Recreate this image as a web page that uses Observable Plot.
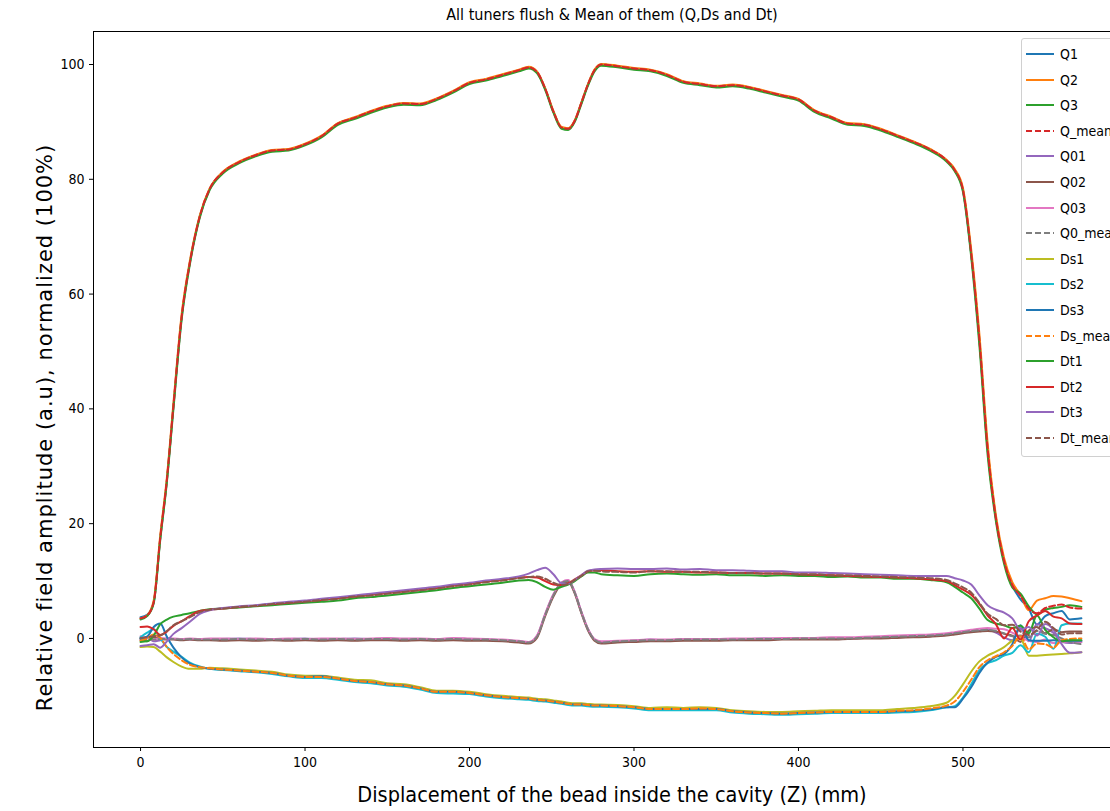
<!DOCTYPE html>
<html>
<head>
<meta charset="utf-8">
<script src="https://cdn.jsdelivr.net/npm/d3@7"></script>
<script src="https://cdn.jsdelivr.net/npm/@observablehq/plot@0.6"></script>
<style>
  html, body { margin: 0; padding: 0; background: #fff; overflow: hidden; }
  #wrap { position: relative; width: 1110px; height: 811px; }
  #legend { position: absolute; left: 1021px; top: 38px; width: 130px; height: 417px;
            border: 1px solid #d0d0d0; border-radius: 3px; background: rgba(255,255,255,0.85);
            font-family: "DejaVu Sans Condensed", "Liberation Sans Narrow", "DejaVu Sans", sans-serif;
            font-size: 14px; color: #000; }
  .item { position: absolute; left: 0; height: 20px; width: 130px; }
  .item svg { position: absolute; left: 3px; top: 4px; }
  .item span { position: absolute; left: 38px; top: 1px; line-height: 18px; white-space: nowrap; }
</style>
</head>
<body>
<div id="wrap"><div id="chart"></div><div id="legend"></div></div>
<script>
// ---- data ----
const title = "All tuners flush & Mean of them (Q,Ds and Dt)";
const xLabel = "Displacement of the bead inside the cavity (Z) (mm)";
const yLabel = "Relative field amplitude (a.u), normalized (100%)";
const xTicks = [0, 100, 200, 300, 400, 500];
const yTicks = [0, 20, 40, 60, 80, 100];

const z = [0,4,8,12,16,20,25,30,36,42,50,60,70,80,90,100,110,120,130,140,150,160,170,180,190,200,210,220,230,236,241,246,251,256,260,264,268,272,276,280,290,300,310,320,330,340,350,360,370,380,390,400,410,420,430,440,450,460,470,480,490,495,500,505,510,515,520,525,530,535,540,545,550,555,560,565,572];

const Q1 = [3.7,4.1,6.3,17.5,27.5,40.5,56.0,65.5,73.5,78.3, 81.2,83.0,84.2,85.0,85.2,86.1,87.5,89.7,90.7,91.8, 92.7,93.2,93.1,94.0,95.3,96.8,97.4,98.2,99.0,99.5, 98.7,95.8,91.8,89.0,88.8,90.2,93.3,96.5,99.0,100.0, 99.7,99.3,99.0,98.2,97.0,96.6,96.2,96.4,96.0,95.3, 94.6,93.9,91.9,90.8,89.7,89.5,88.7,87.6,86.5,85.2, 83.3,81.6,78.1,67.0,52.0,33.0,21.0,13.5,9.2,6.8,5.2,2.4,3.9,4.4,4.8,3.3,3.5];
const Q2 = [3.5,4.0,6.6,18.0,28.0,41.0,56.5,65.8,73.7,78.4, 81.3,83.1,84.3,85.1,85.3,86.2,87.6,89.8,90.8,91.9, 92.8,93.3,93.2,94.1,95.4,96.9,97.5,98.3,99.1,99.6, 98.8,95.9,91.9,89.1,88.9,90.3,93.4,96.6,99.1,100.1, 99.8,99.4,99.1,98.3,97.1,96.7,96.3,96.5,96.1,95.4, 94.7,94.0,92.0,90.9,89.8,89.6,88.8,87.7,86.6,85.3, 83.4,81.8,78.5,67.8,53.0,34.0,21.5,14.0,9.8,7.6,4.9,6.6,7.0,7.4,7.3,7.0,6.5];
const Q3 = [3.3,3.9,6.1,17.2,27.2,40.0,55.6,65.2,73.3,78.1, 81.0,82.8,84.0,84.8,85.0,85.9,87.3,89.5,90.5,91.6, 92.5,93.0,92.9,93.8,95.1,96.6,97.2,98.0,98.8,99.3, 98.5,95.6,91.6,88.8,88.6,90.0,93.1,96.3,98.8,99.8, 99.5,99.1,98.8,98.0,96.8,96.4,96.0,96.2,95.8,95.1, 94.4,93.7,91.7,90.6,89.5,89.3,88.5,87.4,86.3,85.0, 83.1,81.4,77.8,66.5,51.0,32.0,20.5,13.0,8.9,7.8,5.6,4.2,5.0,5.3,5.5,5.8,5.5];
const Q_mean = [3.5,4.0,6.3,17.6,27.6,40.5,56.0,65.5,73.5,78.3, 81.2,83.0,84.2,85.0,85.2,86.1,87.5,89.7,90.7,91.8, 92.7,93.2,93.1,94.0,95.3,96.8,97.4,98.2,99.0,99.5, 98.7,95.8,91.8,89.0,88.8,90.2,93.3,96.5,99.0,100.0, 99.7,99.3,99.0,98.2,97.0,96.6,96.2,96.4,96.0,95.3, 94.6,93.9,91.9,90.8,89.7,89.5,88.7,87.6,86.5,85.2, 83.3,81.6,78.1,67.1,52.0,33.0,21.0,13.5,9.3,7.4,5.2,4.4,5.3,5.7,5.9,5.4,5.2];

const Q01 = [-0.3,0.3,-0.5,-0.3,0.0,-0.1,-0.1,-0.2,-0.1,-0.2, -0.1,0.0,-0.1,-0.2,-0.1,0.0,-0.2,-0.1,0.0,-0.1, 0.0,-0.2,-0.1,-0.2,0.0,-0.1,-0.2,-0.3,-0.5,-0.7, 0.4,4.2,7.6,9.7,10.1,8.0,4.6,1.6,-0.2,-0.6, -0.5,-0.4,-0.2,-0.3,-0.2,-0.1,-0.2,-0.2,-0.1,0.0, -0.1,0.0,0.0,-0.1,0.0,0.1,0.2,0.3,0.3,0.4, 0.6,0.8,1.0,1.2,1.4,1.5,1.0,0.2,-0.3,1.8,-0.5,2.5,1.8,1.0,-0.6,-0.8,-0.6];
const Q02 = [-0.1,-0.5,0.2,0.0,-0.2,-0.2,-0.3,-0.2,-0.3,-0.3, -0.4,-0.3,-0.4,-0.3,-0.4,-0.3,-0.4,-0.3,-0.4,-0.3, -0.3,-0.4,-0.3,-0.4,-0.3,-0.4,-0.4,-0.5,-0.7,-0.9, 0.1,3.9,7.3,9.5,9.9,7.8,4.4,1.4,-0.4,-0.9, -0.7,-0.6,-0.5,-0.5,-0.4,-0.4,-0.4,-0.3,-0.3,-0.3, -0.2,-0.2,-0.2,-0.2,-0.1,0.0,0.0,0.1,0.2,0.3, 0.5,0.7,0.9,1.1,1.2,1.3,1.2,0.8,0.5,-0.6,1.4,2.0,0.9,1.6,1.1,1.2,1.2];
const Q03 = [0.4,0.1,-0.2,0.1,0.0,0.0,-0.1,0.0,-0.1,0.0, 0.0,-0.1,0.0,-0.1,0.0,-0.1,0.0,0.0,-0.1,0.0, 0.1,0.0,0.0,-0.1,0.1,0.0,-0.1,-0.2,-0.4,-0.6, 0.5,4.3,7.7,9.8,10.2,8.1,4.7,1.7,-0.1,-0.5, -0.4,-0.3,-0.2,-0.2,-0.1,-0.1,-0.1,0.0,0.0,0.0, 0.1,0.1,0.1,0.2,0.2,0.3,0.4,0.5,0.6,0.7, 0.9,1.1,1.3,1.5,1.7,1.8,1.7,1.6,1.0,0.2,-0.4,-0.6,-0.2,-0.8,-0.6,-0.5,-0.6];
const Q0_mean = [0.0,-0.1,-0.2,-0.1,-0.1,-0.1,-0.2,-0.1,-0.2,-0.2, -0.2,-0.1,-0.2,-0.2,-0.2,-0.1,-0.2,-0.1,-0.2,-0.1, -0.1,-0.2,-0.1,-0.2,-0.1,-0.2,-0.2,-0.3,-0.5,-0.7, 0.3,4.1,7.5,9.7,10.0,8.0,4.6,1.6,-0.2,-0.7, -0.5,-0.4,-0.3,-0.3,-0.2,-0.2,-0.2,-0.2,-0.1,-0.1, -0.1,0.0,0.0,0.0,0.0,0.1,0.2,0.3,0.4,0.5, 0.7,0.9,1.1,1.3,1.4,1.5,1.3,0.9,0.4,0.5,0.2,1.3,0.8,0.6,0.0,-0.6,-1.0];

const Ds1 = [-1.5,-1.4,-1.5,-2.3,-3.3,-4.1,-4.9,-5.3,-5.3,-5.1, -5.2,-5.4,-5.6,-5.8,-6.3,-6.5,-6.5,-6.8,-7.2,-7.3, -7.8,-8.0,-8.5,-9.1,-9.1,-9.3,-9.7,-10.0,-10.2,-10.3, -10.5,-10.6,-10.8,-11.0,-11.2,-11.3,-11.3,-11.4,-11.5,-11.5, -11.6,-11.8,-12.1,-12.0,-12.1,-12.0,-12.1,-12.5,-12.7,-12.8, -12.8,-12.7,-12.6,-12.5,-12.5,-12.5,-12.5,-12.3,-12.1,-11.8, -11.2,-10.0,-8.0,-5.8,-4.0,-3.0,-2.3,-1.5,-0.4,0.0,-3.0,-3.0,-2.9,-2.8,-2.7,-2.6,-2.4];
const Ds2 = [0.2,1.0,1.6,0.0,-1.5,-2.3,-3.2,-4.2,-4.9,-5.3, -5.5,-5.7,-5.9,-6.2,-6.6,-6.9,-6.9,-7.2,-7.6,-7.8, -8.2,-8.4,-8.9,-9.5,-9.6,-9.7,-10.1,-10.4,-10.6,-10.7, -10.9,-11.0,-11.2,-11.4,-11.6,-11.7,-11.7,-11.8,-11.9,-11.9, -12.0,-12.2,-12.5,-12.5,-12.5,-12.5,-12.5,-12.9,-13.1,-13.2, -13.3,-13.2,-13.1,-13.0,-13.0,-13.0,-13.0,-12.9,-12.8,-12.5, -12.0,-11.8,-10.3,-8.0,-5.5,-4.3,-3.8,-3.0,-2.5,-1.2,-2.4,0.8,0.3,-1.8,2.3,2.6,2.6];
const Ds3 = [0.0,0.3,2.0,2.6,0.3,-1.6,-3.3,-4.4,-5.0,-5.3, -5.4,-5.6,-5.8,-6.0,-6.5,-6.7,-6.6,-7.0,-7.4,-7.6, -8.0,-8.2,-8.7,-9.3,-9.3,-9.5,-9.9,-10.2,-10.4,-10.5, -10.7,-10.8,-11.0,-11.2,-11.4,-11.5,-11.5,-11.6,-11.7,-11.7, -11.8,-12.0,-12.3,-12.3,-12.3,-12.3,-12.3,-12.7,-12.9,-13.0, -13.1,-13.0,-12.9,-12.8,-12.8,-12.8,-12.8,-12.7,-12.6,-12.4, -12.0,-12.0,-10.5,-8.5,-6.0,-4.2,-3.2,-2.7,-1.0,2.3,-0.3,-0.4,-0.4,-0.3,-0.4,-0.4,-0.4];
const Ds_mean = [-0.4,0.0,0.7,0.1,-1.5,-2.7,-3.8,-4.6,-5.0,-5.2, -5.4,-5.6,-5.8,-6.0,-6.5,-6.7,-6.7,-7.0,-7.4,-7.6, -8.0,-8.2,-8.7,-9.3,-9.3,-9.5,-9.9,-10.2,-10.4,-10.5, -10.7,-10.8,-11.0,-11.2,-11.4,-11.5,-11.5,-11.6,-11.7,-11.7, -11.8,-12.0,-12.3,-12.3,-12.3,-12.2,-12.3,-12.7,-12.9,-13.0, -13.1,-13.0,-12.9,-12.8,-12.8,-12.8,-12.8,-12.6,-12.5,-12.2, -11.7,-11.0,-9.3,-7.2,-5.0,-3.8,-3.1,-2.4,-1.3,0.4,-1.9,-0.9,-1.0,-1.6,-0.3,-0.1,0.0];

const Dt1 = [-0.6,-0.5,0.5,2.5,3.3,3.8,4.1,4.4,4.8,5.1, 5.2,5.4,5.6,5.8,6.0,6.2,6.4,6.6,7.0,7.2, 7.5,7.8,8.1,8.4,8.8,9.1,9.4,9.7,10.1,10.2, 9.8,9.0,8.5,9.0,9.4,10.0,10.8,11.5,11.5,11.2, 11.0,10.9,11.2,11.3,11.2,11.1,11.2,11.0,11.0,10.9, 11.0,10.9,10.9,10.7,10.8,10.6,10.6,10.4,10.4,10.2, 9.8,9.0,8.0,7.0,5.2,3.2,2.6,2.3,1.8,2.2,0.9,4.0,1.5,0.2,-0.5,-0.3,-0.3];
const Dt2 = [2.0,2.1,1.6,0.6,1.2,2.2,3.0,3.9,4.8,5.0, 5.2,5.5,5.7,6.0,6.2,6.5,6.7,7.0,7.3,7.6, 7.9,8.2,8.5,8.8,9.2,9.5,9.9,10.2,10.6,10.7, 10.6,10.0,9.4,9.3,9.6,10.3,11.0,11.7,11.9,11.9, 11.7,11.6,11.7,11.6,11.6,11.5,11.5,11.4,11.4,11.3, 11.3,11.2,11.1,11.0,10.9,10.8,10.7,10.6,10.5,10.3, 10.0,9.3,8.5,7.6,6.0,4.0,2.5,0.0,1.8,-0.2,3.0,4.0,4.8,3.8,3.5,2.6,2.5];
const Dt3 = [-1.3,-1.2,-1.0,-1.6,-0.5,0.8,1.8,2.9,4.3,4.9, 5.3,5.6,5.8,6.1,6.4,6.6,6.9,7.2,7.5,7.8, 8.1,8.4,8.7,9.0,9.4,9.7,10.1,10.4,10.8,11.3, 11.9,12.3,11.2,9.6,9.5,10.2,11.0,11.8,12.0,12.1, 12.2,12.1,12.1,12.2,12.0,12.1,11.9,11.9,11.8,11.7, 11.7,11.5,11.5,11.4,11.3,11.2,11.1,11.0,10.9,10.9, 10.9,10.5,10.1,9.4,7.5,5.8,5.0,4.5,3.5,1.5,2.0,0.5,2.5,1.5,-1.0,-2.5,-2.4];
const Dt_mean = [0.1,0.2,0.4,0.5,1.3,2.3,3.0,3.7,4.6,5.0, 5.2,5.5,5.7,6.0,6.2,6.4,6.7,6.9,7.3,7.5, 7.8,8.1,8.4,8.7,9.1,9.4,9.8,10.1,10.5,10.7, 10.8,10.4,9.7,9.3,9.5,10.2,10.9,11.7,11.8,11.7, 11.6,11.5,11.7,11.7,11.6,11.6,11.5,11.4,11.4,11.3, 11.3,11.2,11.2,11.0,11.0,10.9,10.8,10.7,10.6,10.5, 10.2,9.6,8.9,8.0,6.2,4.3,3.4,2.3,2.4,1.2,0.6,1.5,2.9,1.8,0.7,0.9,0.9];

const seriesNames = ["Q1","Q2","Q3","Q_mean","Q01","Q02","Q03","Q0_mean","Ds1","Ds2","Ds3","Ds_mean","Dt1","Dt2","Dt3","Dt_mean"];
const seriesValues = [Q1,Q2,Q3,Q_mean,Q01,Q02,Q03,Q0_mean,Ds1,Ds2,Ds3,Ds_mean,Dt1,Dt2,Dt3,Dt_mean];
const seriesColors = ["#1f77b4","#ff7f0e","#2ca02c","#d62728","#9467bd","#8c564b","#e377c2","#7f7f7f","#bcbd22","#17becf","#1f77b4","#ff7f0e","#2ca02c","#d62728","#9467bd","#8c564b"];
const seriesDashed = [false,false,false,true,false,false,false,true,false,false,false,true,false,false,false,true];

// ---- chart ----
const FONT_C = '"DejaVu Sans Condensed", "Liberation Sans Narrow", "DejaVu Sans", sans-serif';
const X_DOMAIN = [-28.6, 589.7];
const Y_DOMAIN = [-19.0, 105.75];

const lineMarks = seriesNames.map((name, i) => {
  const rows = z.map((x, j) => ({x, y: seriesValues[i][j], name}));
  return Plot.line(rows, {
    x: "x", y: "y",
    stroke: seriesColors[i],
    strokeWidth: 2,
    strokeDasharray: seriesDashed[i] ? "6,3" : null,
    curve: "monotone-x"
  });
});

const chart = Plot.plot({
  width: 1110, height: 811,
  marginLeft: 93, marginRight: 0, marginTop: 31, marginBottom: 64,
  style: {fontFamily: FONT_C, fontSize: "14px", color: "#000", background: "#fff", overflow: "visible"},
  x: {domain: X_DOMAIN, ticks: xTicks, tickSize: 4, tickPadding: 6, label: null, tickFormat: d => String(d)},
  y: {domain: Y_DOMAIN, ticks: yTicks, tickSize: 4, tickPadding: 5, label: null, tickFormat: d => String(d)},
  marks: [
    ...lineMarks,
    Plot.ruleX([X_DOMAIN[0]], {stroke: "#000", strokeWidth: 1}),
    Plot.ruleY([Y_DOMAIN[0], Y_DOMAIN[1]], {stroke: "#000", strokeWidth: 1}),
    Plot.text([title], {text: d => d, frameAnchor: "top", dx: 10, dy: -17, fontSize: 16, lineAnchor: "middle", fill: "#000"}),
    Plot.text([xLabel], {text: d => d, frameAnchor: "bottom", dx: 10, dy: 48, fontSize: 21.5, lineAnchor: "middle", fill: "#000"}),
    Plot.text([yLabel], {text: d => d, frameAnchor: "left", textAnchor: "middle", dx: -48, dy: 38, rotate: -90, fontSize: 21, lineAnchor: "middle", fill: "#000", fontFamily: '"DejaVu Sans", sans-serif'})
  ]
});
document.getElementById("chart").appendChild(chart);
// widen the rotated y label's letter spacing to match the reference length
d3.select(chart).selectAll("text").filter(function() { return this.textContent === yLabel; })
  .style("letter-spacing", "1px");

// ---- legend ----
const legend = document.getElementById("legend");
seriesNames.forEach((name, i) => {
  const item = document.createElement("div");
  item.className = "item";
  item.style.top = (5 + i * 25.6) + "px";
  const dash = seriesDashed[i] ? 'stroke-dasharray="6,3"' : '';
  item.innerHTML = `<svg width="30" height="12"><line x1="1" y1="6" x2="29" y2="6" stroke="${seriesColors[i]}" stroke-width="2" ${dash}/></svg><span>${name}</span>`;
  legend.appendChild(item);
});
</script>
</body>
</html>
